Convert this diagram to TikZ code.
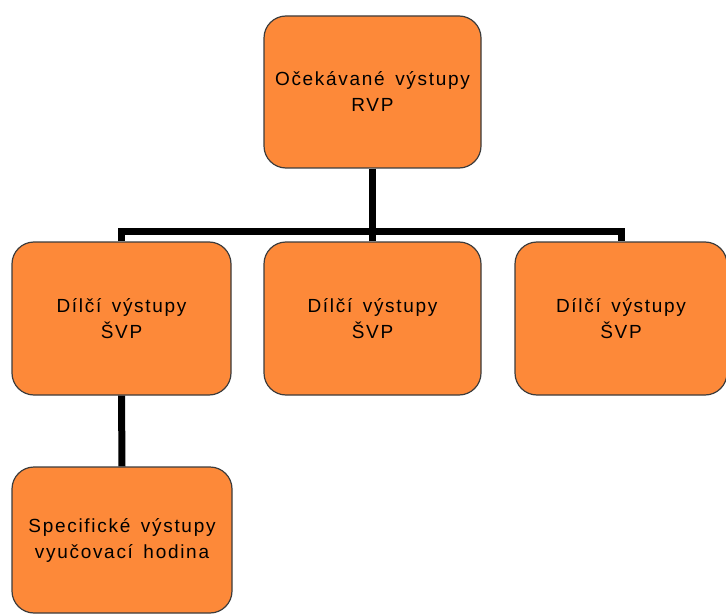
\documentclass[tikz,border=0pt]{standalone}
\usepackage{fontspec}
\setmainfont{Liberation Sans}[LetterSpace=9, WordSpace=1.5]
\definecolor{boxorange}{RGB}{253,137,57}
\definecolor{boxedge}{RGB}{60,60,60}

\begin{document}
\begin{tikzpicture}[x=1pt, y=-1pt,
		box/.style={draw=boxedge, line width=1.2pt, fill=boxorange, rounded corners=22pt,
			minimum width=217pt, minimum height=152pt, inner sep=0pt, align=center,
			font=\fontsize{19}{26}\selectfont},
		conn/.style={line width=7pt, color=black}]
		\useasboundingbox (0,0) rectangle (726,615);
		
		\node[box] (rvp) at (372.5,92) {Očekávané výstupy\\RVP};
		\node[box, minimum width=219pt, minimum height=153pt] (svp1) at (121.5,318.5) {Dílčí výstupy\\ŠVP};
		\node[box, minimum height=153pt] (svp2) at (372.5,318.5) {Dílčí výstupy\\ŠVP};
		\node[box, minimum width=212pt, minimum height=153pt] (svp3) at (621,318.5) {Dílčí výstupy\\ŠVP};
		\node[box, minimum width=220pt, minimum height=146pt] (spec) at (122,540) {Specifické výstupy\\vyučovací hodina};
		
		\coordinate (bus) at (372.5,231);
		\draw[conn] (rvp.south) -- (bus);
		\draw[conn] (svp1.north) |- (bus) -| (svp3.north);
		\draw[conn] (svp2.north) -- (svp2.north |- bus);
		\draw[conn] (svp1.south) -- (spec.north);
	\end{tikzpicture}
\end{document}
